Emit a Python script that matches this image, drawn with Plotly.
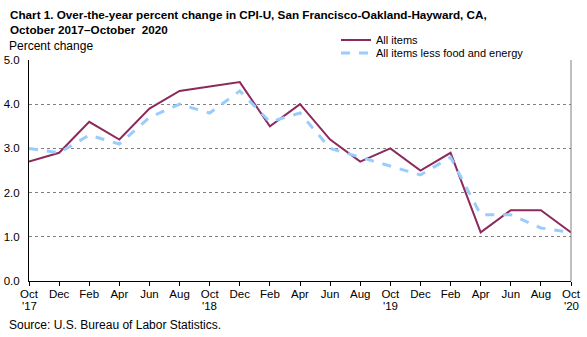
import plotly.graph_objects as go

months = ["Oct", "Dec", "Feb", "Apr", "Jun", "Aug", "Oct", "Dec", "Feb", "Apr",
          "Jun", "Aug", "Oct", "Dec", "Feb", "Apr", "Jun", "Aug", "Oct"]
years = ["'17", "'18", "'19", "'20"]
year_pos = [0, 6, 12, 18]
all_items = [2.7, 2.9, 3.6, 3.2, 3.9, 4.3, 4.4, 4.5, 3.5, 4.0, 3.2, 2.7, 3.0, 2.5, 2.9, 1.1, 1.6, 1.6, 1.1]
core = [3.0, 2.9, 3.3, 3.1, 3.7, 4.0, 3.8, 4.3, 3.6, 3.8, 3.0, 2.8, 2.6, 2.4, 2.8, 1.5, 1.5, 1.2, 1.1]
y_ticks = [0, 1, 2, 3, 4, 5]
y_labels = ["0.0", "1.0", "2.0", "3.0", "4.0", "5.0"]

x = list(range(len(months)))
FONT = "Liberation Sans Narrow, Arial Narrow, sans-serif"
BOLD = "Liberation Sans, Arial, sans-serif"

L, R, T, B = 29, 16, 60, 56
W, H = 587, 337
pw, ph = W - L - R, H - T - B


def px(xp):
    return (xp - L) / pw


def py(yp):
    return (H - B - yp) / ph


fig = go.Figure()
fig.add_trace(go.Scatter(x=x, y=all_items, mode="lines", name="All items",
                         line=dict(color="#8c2a5c", width=2), legend="legend"))
fig.add_trace(go.Scatter(x=x, y=core, mode="lines", name="All items less food and energy",
                         line=dict(color="#99ccff", width=3, dash="dash"), legend="legend2"))

leg_common = dict(xanchor="left", yanchor="middle", bgcolor="rgba(0,0,0,0)",
                  font=dict(size=11, family=FONT, color="black"), itemwidth=30)
fig.update_layout(
    width=W, height=H,
    margin=dict(l=L, r=R, t=T, b=B, autoexpand=False),
    paper_bgcolor="white", plot_bgcolor="white",
    font=dict(family=FONT, size=12, color="black"),
    showlegend=True,
    legend=dict(x=px(336), y=py(40), **leg_common),
    legend2=dict(x=px(336), y=py(53), **leg_common),
)
fig.update_xaxes(range=[0, len(months) - 1], tickvals=x, ticktext=months,
                 showline=True, linecolor="black", linewidth=1,
                 ticks="outside", ticklen=4, tickcolor="black",
                 showgrid=False, zeroline=False, tickangle=0,
                 ticklabelstandoff=-2, automargin=False,
                 tickfont=dict(size=11.5, family=FONT))
fig.update_yaxes(range=[0, 5], tickvals=y_ticks, ticktext=y_labels,
                 showline=True, linecolor="black", linewidth=1,
                 ticks="", showgrid=True, gridcolor="#808080", gridwidth=1, griddash="dot",
                 zeroline=False, ticklabelstandoff=6, automargin=False,
                 tickfont=dict(size=11.5, family=FONT))

for yr, pos in zip(years, year_pos):
    fig.add_annotation(text=yr, x=pos, xref="x", yref="paper", y=py(306),
                       xanchor="center", yanchor="middle", showarrow=False,
                       font=dict(size=11.5, family=FONT))

fig.add_shape(type="line", xref="paper", yref="paper", x0=1, x1=1, y0=0, y1=1,
              line=dict(color="#808080", width=1))
fig.add_annotation(text="<b>Chart 1. Over-the-year percent change in CPI-U, San Francisco-Oakland-Hayward, CA,</b>",
                   xref="paper", yref="paper", x=px(8), y=py(14), xanchor="left", yanchor="middle",
                   showarrow=False, font=dict(size=11.7, family=BOLD))
fig.add_annotation(text="<b>October 2017–October  2020</b>",
                   xref="paper", yref="paper", x=px(8), y=py(29), xanchor="left", yanchor="middle",
                   showarrow=False, font=dict(size=11.7, family=BOLD))
fig.add_annotation(text="Percent change", xref="paper", yref="paper", x=px(7), y=py(46),
                   xanchor="left", yanchor="middle", showarrow=False, font=dict(size=12))
fig.add_annotation(text="Source: U.S. Bureau of Labor Statistics.", xref="paper", yref="paper",
                   x=px(7), y=py(325), xanchor="left", yanchor="middle", showarrow=False,
                   font=dict(size=12))

fig.write_html("out.html")
